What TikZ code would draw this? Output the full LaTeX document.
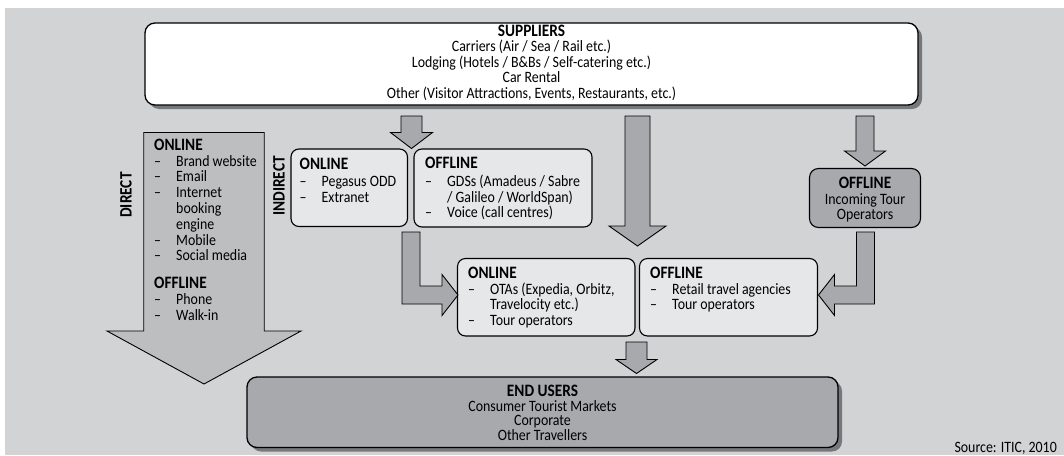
\documentclass[tikz,border=0pt]{standalone}
\usepackage{fontspec}
\setmainfont{Carlito}[FakeStretch=0.88]
\usetikzlibrary{calc,shadows}

\definecolor{bggray}{HTML}{D1D3D4}
\definecolor{boxlight}{HTML}{E6E7E8}
\definecolor{arrowgray}{HTML}{A7A9AC}
\definecolor{directgray}{HTML}{BCBEC0}
\definecolor{shadowgray}{HTML}{77787B}

% text helpers
\newcommand\headtxt[1]{{\fontsize{17.4}{15.8}\selectfont\bfseries #1}}
\newcommand\itm{\makebox[22pt][l]{–}}
\newcommand\itmcont{\hspace*{22pt}}
\newcommand\firstline{\rule{0pt}{13pt}}

% straight block arrow pointing down: style, start, tip, shaft half width, head half width, head length
\newcommand\downblock[6]{%
  \draw[#1] let \p1=(#2), \p2=(#3) in
    ({\x2-#4pt},\y1) -- ({\x2+#4pt},\y1) -- ({\x2+#4pt},{\y2+#6pt}) -- ({\x2+#5pt},{\y2+#6pt})
    -- (\x2,\y2) -- ({\x2-#5pt},{\y2+#6pt}) -- ({\x2-#4pt},{\y2+#6pt}) -- cycle;}

% elbow block arrow, down then sideways: style, start, tip, shaft half width, head half width, head length, side (1 right, -1 left)
\newcommand\elbowblock[7]{%
  \draw[#1] let \p1=(#2), \p2=(#3) in
    ({\x1-(#7)*#4pt},\y1) -- ({\x1+(#7)*#4pt},\y1) -- ({\x1+(#7)*#4pt},{\y2+#4pt})
    -- ({\x2-(#7)*#6pt},{\y2+#4pt}) -- ({\x2-(#7)*#6pt},{\y2+#5pt}) -- (\x2,\y2)
    -- ({\x2-(#7)*#6pt},{\y2-#5pt}) -- ({\x2-(#7)*#6pt},{\y2-#4pt})
    -- ({\x1-(#7)*#4pt},{\y2-#4pt}) -- cycle;}

\tikzset{
  roundbox/.style={draw=black, line width=1.1pt, rounded corners=8pt, inner sep=0pt},
  lightbox/.style={roundbox, fill=boxlight},
  darkbox/.style={roundbox, fill=arrowgray},
  bigbox/.style={roundbox, line width=1.3pt, rounded corners=10pt,
    drop shadow={shadow xshift=4pt, shadow yshift=-4pt, fill=shadowgray, opacity=1}},
  blockarrow/.style={draw=black, line width=0.9pt, fill=arrowgray, line join=miter},
  directarrow/.style={blockarrow, fill=directgray},
  txt/.style={inner sep=0pt, align=left, anchor=north west, font=\fontsize{15.8}{15.8}\selectfont},
  ctxt/.style={txt, align=center, anchor=north},
  vlabel/.style={inner sep=0pt, rotate=90, font=\fontsize{17.4}{15.8}\selectfont\bfseries},
}

\begin{document}
\begin{tikzpicture}[x=1pt,y=-1pt]
\useasboundingbox (0,0) rectangle (1064,455);
\fill[bggray] (5,8) rectangle (1064,455);

% ---- boxes
\node[bigbox, fill=white, minimum width=773pt, minimum height=82pt] (sup) at (531.5,64) {};
\node[bigbox, fill=arrowgray, minimum width=591pt, minimum height=70.5pt] (end) at (542.5,412.25) {};
\node[lightbox, minimum width=116.5pt, minimum height=77.5pt] (peg) at (349.25,187.75) {};
\node[lightbox, minimum width=178pt, minimum height=78pt] (gds) at (503,188) {};
\node[lightbox, minimum width=177.5pt, minimum height=77.5pt] (ota) at (546.25,297.25) {};
\node[lightbox, minimum width=178pt, minimum height=77.5pt] (ret) at (728.5,297.25) {};
\node[darkbox, rounded corners=9pt, minimum width=111pt, minimum height=59pt] (inc) at (865,198) {};

% ---- arrow end points
\coordinate (dirS) at (204,132.5);  \coordinate (dirT) at (204,384);
\coordinate (aS)   at (411.5,116);  \coordinate (aT)   at (411.5,148.5);
\coordinate (bS)   at (637.5,116);  \coordinate (bT)   at (637.5,246);
\coordinate (cS)   at (865,116);    \coordinate (cT)   at (865,166);
\coordinate (dS)   at (636.5,342);  \coordinate (dT)   at (636.5,373.5);
\coordinate (eS)   at (411,232);    \coordinate (eT)   at (458,295);
\coordinate (fS)   at (865.5,232);  \coordinate (fT)   at (818.5,295);

% ---- arrows
\downblock{directarrow}{dirS}{dirT}{60.25}{97}{53}
\downblock{blockarrow}{aS}{aT}{10.5}{21}{16}
\downblock{blockarrow}{bS}{bT}{12.5}{28.5}{20}
\downblock{blockarrow}{cS}{cT}{9}{20.5}{15}
\downblock{blockarrow}{dS}{dT}{10.5}{20.5}{14}
\elbowblock{blockarrow}{eS}{eT}{9}{20.5}{16}{1}
\elbowblock{blockarrow}{fS}{fT}{9}{20.5}{16}{-1}

% ---- texts
\node[ctxt, font=\fontsize{15.8}{15.5}\selectfont] (supt) at (531.5,23)
  {\firstline\headtxt{SUPPLIERS}\\ Carriers (Air / Sea / Rail etc.)\\
   Lodging (Hotels / B\&Bs / Self-catering etc.)\\ Car Rental\\
   Other (Visitor Attractions, Events, Restaurants, etc.)};

\node[txt] (dirt) at (154,137)
  {\firstline\headtxt{ONLINE}\\ \itm Brand website\\ \itm Email\\ \itm Internet\\
   \itmcont booking\\ \itmcont engine\\ \itm Mobile\\ \itm Social media\\[12pt]
   \headtxt{OFFLINE}\\ \itm Phone\\ \itm Walk-in};

\node[vlabel] (dirl) at (126,195) {DIRECT};
\node[vlabel] (indl) at (279,186) {INDIRECT};

\node[txt] (pegt) at (299.5,156)
  {\firstline\headtxt{ONLINE}\\[1.2pt] \itm Pegasus ODD\\ \itm Extranet};
\node[txt] (gdst) at (425,155.5)
  {\firstline\headtxt{OFFLINE}\\[1.7pt] \itm GDSs (Amadeus / Sabre\\
   \itmcont / Galileo / WorldSpan)\\ \itm Voice (call centres)};
\node[txt] (otat) at (468,265)
  {\firstline\headtxt{ONLINE}\\ \itm OTAs (Expedia, Orbitz,\\
   \itmcont Travelocity etc.)\\ \itm Tour operators};
\node[txt] (rett) at (650,265)
  {\firstline\headtxt{OFFLINE}\\ \itm Retail travel agencies\\ \itm Tour operators};
\node[ctxt, font=\fontsize{15.8}{15.5}\selectfont] (inct) at (865,175.5)
  {\firstline\headtxt{OFFLINE}\\ Incoming Tour\\ Operators};

\node[ctxt, font=\fontsize{15.8}{14.8}\selectfont] (endt) at (542.5,383)
  {\firstline\headtxt{END USERS}\\ Consumer Tourist Markets\\ Corporate\\ Other Travellers};

\node[inner sep=0pt, anchor=north east, font=\fontsize{15.8}{15.8}\selectfont] (src) at (1057,442)
  {Source: ITIC, 2010};
\end{tikzpicture}
\end{document}
